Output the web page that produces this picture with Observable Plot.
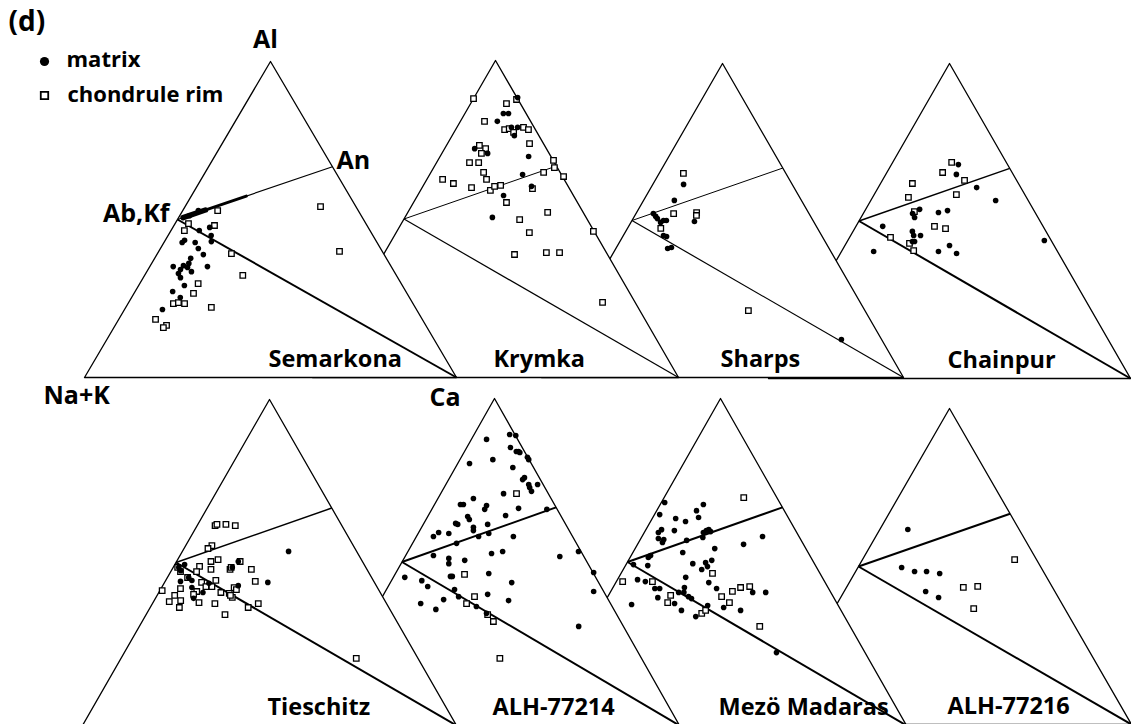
<!DOCTYPE html>
<html>
<head>
<meta charset="utf-8">
<script src="https://cdn.jsdelivr.net/npm/d3@7"></script>
<script src="https://cdn.jsdelivr.net/npm/@observablehq/plot@0.6"></script>
<style>
  body { margin: 0; background: #fff; }
  #chart svg { display: block; }
</style>
</head>
<body>
<div id="chart"></div>
<script>
// Feldspathic compositions (atomic %) on Al – (Na+K) – Ca ternaries.
// Each analysis is [Al, Ca]; Na+K = 100 − Al − Ca.

const panelNames = ["Semarkona", "Krymka", "Sharps", "Chainpur",
                    "Tieschitz", "ALH-77214", "Mezö Madaras", "ALH-77216"];
const vertexLabels = ["Al", "An", "Ab,Kf", "Na+K", "Ca"];
const legendLabels = ["matrix", "chondrule rim"];
const panelTag = "(d)";

// reference compositions: albite / K-feldspar, anorthite, Ca corner
const abKf = [50, 0];
const an = [66.7, 33.3];
const caCorner = [0, 100];

const semarkonaMatrix = [[46.5,7.6],[47.5,9.9],[44.9,11.6],[43.0,12.6],[42.7,4.9],[43.4,5.2],[42.7,8.4],[40.8,10.2],[38.9,12.5],[37.7,9.7],[36.1,10.0],[34.8,10.3],[35.4,8.9],[35.1,6.3],[33.5,12.0],[34.2,8.7],[32.9,8.8],[31.6,10.0],[35.1,15.5],[29.1,12.3],[27.2,10.1],[25.3,13.1],[21.5,10.2],[52.8,4.2],[51.2,2.6]];
const semarkonaRim = [[52.8,9.4],[54.1,36.4],[39.9,48.6],[48.1,10.9],[48.7,3.6],[46.5,3.6],[39.2,19.9],[32.3,26.4],[29.7,15.7],[26.6,16.0],[23.4,12.2],[23.7,13.4],[23.4,15.2],[22.2,23.0],[18.4,9.9],[16.5,13.8],[15.8,13.3]];
// dense run of matrix analyses lying on the Ab–An join
const semarkonaBand = [[50.6,1.2],[57.4,14.8]];
const semarkonaBandCore = [[50.6,1.2],[53.0,6.0]];

const krymkaMatrix = [[88.3,11.9],[83.3,10.5],[83.3,11.9],[80.8,10.1],[78.9,14.9],[78.9,16.6],[76.3,17.0],[72.2,8.2],[70.7,12.5],[69.7,24.2],[64.0,25.4],[60.3,29.7],[57.4,23.5],[50.5,23.9]];
const krymkaRim = [[88.0,0.0],[86.4,9.8],[87.7,11.9],[80.8,6.6],[78.2,13.4],[78.5,14.5],[77.3,16.3],[78.9,18.2],[78.2,19.9],[73.8,22.4],[73.2,9.0],[72.2,11.2],[70.7,10.8],[67.8,9.0],[67.8,11.5],[64.7,14.4],[62.5,16.3],[62.5,4.3],[61.2,7.9],[59.9,13.5],[59.0,19.1],[60.3,19.6],[60.6,21.1],[59.6,30.3],[64.7,30.8],[68.5,31.6],[66.2,33.0],[63.4,36.9],[55.2,25.4],[52.1,38.2],[49.8,31.7],[45.7,36.4],[38.8,35.8],[39.4,44.2],[39.4,47.8],[46.1,53.7],[23.7,67.4]];

const sharpsMatrix = [[61.5,8.5],[56.4,8.5],[52.2,4.8],[51.3,5.9],[50.6,6.7],[49.4,8.2],[50.0,8.7],[50.0,9.5],[45.2,11.1],[44.9,12.1],[41.1,14.3],[41.4,15.2],[49.7,17.4],[12.1,76.8]];
const sharpsRim = [[65.0,6.7],[52.2,10.4],[52.5,16.6],[51.6,17.0],[47.5,9.2],[21.3,46.5]];

const chainpurMatrix = [[67.9,18.5],[64.8,19.5],[60.6,27.2],[56.5,34.5],[52.4,13.6],[51.1,14.8],[53.7,14.9],[52.7,20.6],[53.3,22.8],[48.3,7.4],[46.7,16.4],[45.4,17.4],[45.4,19.3],[43.5,18.6],[43.5,18.0],[40.3,26.8],[42.2,28.9],[39.7,32.1],[43.8,54.3],[40.3,8.9]];
const chainpurRim = [[68.6,16.3],[65.4,15.4],[62.9,22.7],[61.9,8.8],[58.4,22.7],[57.5,9.9],[48.3,21.7],[47.6,25.1],[44.8,11.3],[42.9,17.5],[40.6,19.8],[53.0,13.8]];

const tieschitzMatrix = [[49.4,2.6],[48.5,1.5],[47.5,2.5],[45.4,5.7],[44.5,7.0],[44.2,4.1],[50.3,16.5],[48.5,15.8],[53.4,28.4],[43.9,27.6],[42.9,20.2],[42.3,8.1],[40.8,11.8],[39.0,10.2],[43.6,12.0]];
const tieschitzRim = [[61.3,4.8],[61.7,5.1],[61.7,7.5],[61.3,10.2],[55.2,7.0],[54.3,6.4],[50.3,9.2],[50.9,10.8],[50.3,17.0],[47.2,2.6],[48.8,6.9],[47.2,6.9],[47.9,10.4],[47.9,15.5],[48.5,15.5],[47.9,21.2],[48.5,1.2],[45.4,5.4],[44.5,13.4],[44.2,24.1],[43.9,9.9],[42.6,11.7],[42.6,13.3],[42.0,5.2],[41.4,0.6],[41.1,10.0],[40.2,9.6],[40.8,16.6],[40.5,19.0],[39.3,20.4],[39.9,19.6],[42.3,19.4],[41.7,20.3],[39.9,4.7],[38.3,7.1],[38.0,4.2],[37.7,12.3],[37.4,16.7],[36.2,7.8],[36.2,26.2],[37.4,28.3],[34.0,21.1],[20.6,62.9]];

const alh77214Matrix = [[89.0,9.6],[88.7,11.4],[87.5,4.1],[85.0,11.8],[83.8,14.0],[83.8,14.6],[83.5,15.1],[82.0,17.9],[81.3,18.6],[81.3,8.9],[80.1,3.2],[78.9,15.5],[75.2,20.0],[75.8,20.2],[73.7,22.4],[72.8,23.1],[71.6,24.2],[73.7,24.8],[70.9,17.0],[69.4,9.6],[67.6,7.0],[67.6,7.8],[67.3,14.2],[66.1,14.3],[66.4,23.3],[66.1,31.1],[64.2,20.9],[63.9,10.8],[63.0,11.7],[61.8,8.6],[61.5,9.3],[60.6,14.0],[59.6,14.5],[61.5,17.4],[58.7,19.1],[59.0,5.4],[57.8,4.6],[58.7,8.3],[57.8,16.8],[57.8,26.2],[55.7,11.9],[52.0,7.5],[52.6,22.9],[53.2,25.6],[51.7,41.8],[53.2,46.1],[51.1,12.1],[49.5,12.9],[50.5,16.7],[45.6,15.3],[45.6,15.8],[46.5,25.2],[43.7,32.8],[45.3,3.1],[44.3,8.2],[42.5,10.7],[46.8,53.4],[41.0,56.3],[41.6,18.4],[39.4,20.6],[40.1,28.1],[38.2,34.7],[37.3,11.4],[35.5,16.4],[38.5,17.0],[36.4,26.9],[34.3,30.7],[30.3,57.6]];
const alh77214Rim = [[70.9,20.5],[46.2,18.8],[39.4,24.9],[37.3,23.8],[33.9,31.2],[31.8,33.8],[20.5,41.2]];

const mezoMadarasMatrix = [[68.2,0.9],[67.6,11.6],[64.5,1.4],[65.7,10.7],[63.6,12.3],[63.3,6.3],[62.4,9.4],[59.0,3.8],[59.9,4.2],[59.6,7.8],[57.2,4.7],[56.9,6.3],[56.0,6.4],[56.6,12.6],[59.0,15.9],[59.6,16.4],[59.9,16.9],[59.3,17.7],[57.5,16.5],[57.8,32.4],[55.4,28.5],[54.1,21.4],[52.0,5.2],[51.4,4.9],[52.9,13.4],[49.2,2.0],[48.9,6.0],[49.5,17.8],[49.8,21.1],[50.5,22.4],[48.6,22.2],[47.7,21.1],[45.3,18.0],[43.7,25.0],[44.6,5.4],[44.0,7.8],[41.9,11.4],[41.9,12.7],[42.2,19.2],[41.9,28.0],[40.7,18.4],[40.7,19.8],[39.4,21.7],[38.8,22.8],[40.7,38.3],[40.7,41.8],[39.1,13.6],[37.3,19.0],[37.0,7.6],[36.1,32.8],[35.2,37.8],[35.2,21.9],[33.3,26.7],[36.7,28.2],[22.3,53.9]];
const mezoMadarasRim = [[69.7,21.4],[44.0,1.7],[44.0,9.7],[46.5,24.6],[41.0,32.7],[42.2,34.3],[42.5,36.6],[39.4,30.6],[37.6,33.6],[39.8,16.7],[37.6,17.0],[34.3,27.8],[35.2,28.4],[30.3,45.4]];

const alh77216Matrix = [[61.7,7.7],[49.7,12.0],[48.4,16.2],[48.4,19.5],[47.8,23.4],[42.1,22.4],[40.2,26.9]];
const alh77216Rim = [[52.2,41.8],[43.4,32.1],[43.7,35.9],[36.7,38.3]];

const matrixSets = [semarkonaMatrix, krymkaMatrix, sharpsMatrix, chainpurMatrix,
                    tieschitzMatrix, alh77214Matrix, mezoMadarasMatrix, alh77216Matrix];
const rimSets = [semarkonaRim, krymkaRim, sharpsRim, chainpurRim,
                 tieschitzRim, alh77214Rim, mezoMadarasRim, alh77216Rim];

// ---- page layout (pixels) ----
const W = 1131, H = 724;
// triangle frames: apex x, apex y, base y, half of base width
const frames = [
  {ax: 270, ay: 61,  by: 377, hw: 186},
  {ax: 495, ay: 60,  by: 377, hw: 183},
  {ax: 722, ay: 63,  by: 377, hw: 181},
  {ax: 949, ay: 63,  by: 378, hw: 181},
  {ax: 269, ay: 399, by: 725, hw: 187},
  {ax: 494, ay: 398, by: 725, hw: 185},
  {ax: 720, ay: 398, by: 725, hw: 186},
  {ax: 949, ay: 408, by: 724, hw: 182}
];
// stroke widths of the Ab–An and Ab–Ca joins
const joinWidths = [[1.2, 2.0], [1.0, 1.2], [1.0, 1.2], [1.5, 2.0],
                    [1.5, 2.0], [2.0, 2.0], [2.0, 2.0], [2.0, 2.0]];

// barycentric (Al, Ca) -> page position inside a frame
function place(f, [al, ca]) {
  return {
    x: f.ax - f.hw + (ca + al / 2) / 100 * 2 * f.hw,
    y: f.by - al / 100 * (f.by - f.ay)
  };
}

const FONT = "Open Sans";
const marks = [];

// right-hand triangles first so their neighbours overlap them
const drawOrder = [3, 2, 1, 0, 7, 6, 5, 4];
for (const i of drawOrder) {
  const f = frames[i];
  const outline = [[0, 0], [0, 100], [100, 0], [0, 0]].map(p => place(f, p));
  marks.push(Plot.line(outline, {x: "x", y: "y", fill: "white", stroke: "black", strokeWidth: 1.3}));

  const a = place(f, abKf), b = place(f, an), c = place(f, caCorner);
  marks.push(Plot.link([{x1: a.x, y1: a.y, x2: b.x, y2: b.y}],
    {x1: "x1", y1: "y1", x2: "x2", y2: "y2", stroke: "black", strokeWidth: joinWidths[i][0]}));
  marks.push(Plot.link([{x1: a.x, y1: a.y, x2: c.x, y2: c.y}],
    {x1: "x1", y1: "y1", x2: "x2", y2: "y2", stroke: "black", strokeWidth: joinWidths[i][1]}));

  if (i === 0) {
    marks.push(Plot.line(semarkonaBand.map(p => place(f, p)),
      {x: "x", y: "y", stroke: "black", strokeWidth: 3, strokeLinecap: "round"}));
    marks.push(Plot.line(semarkonaBandCore.map(p => place(f, p)),
      {x: "x", y: "y", stroke: "black", strokeWidth: 5.5, strokeLinecap: "round"}));
  }

  marks.push(Plot.dot(rimSets[i].map(p => place(f, p)),
    {x: "x", y: "y", symbol: "square", r: 3.1, fill: "white", stroke: "black", strokeWidth: 1.3}));
  marks.push(Plot.dot(matrixSets[i].map(p => place(f, p)),
    {x: "x", y: "y", r: 2.8, fill: "black", stroke: "none"}));
}

// meteorite names
marks.push(Plot.text(panelNames.map((name, i) => ({name, x: frames[i].ax - 2, y: frames[i].by - 18.5})),
  {x: "x", y: "y", text: "name", textAnchor: "start", fontSize: 23.5, fontWeight: "bold", fontFamily: FONT, fill: "black"}));

// corner labels on the first triangle
const f0 = frames[0];
const pAl = place(f0, [100, 0]), pAn = place(f0, an), pAb = place(f0, abKf),
      pNK = place(f0, [0, 0]), pCa = place(f0, caCorner);
const cornerText = [
  {t: vertexLabels[0], x: pAl.x - 5, y: pAl.y - 22, anchor: "middle"},
  {t: vertexLabels[1], x: pAn.x + 4, y: pAn.y - 6, anchor: "start"},
  {t: vertexLabels[2], x: pAb.x - 8, y: pAb.y - 6, anchor: "end"},
  {t: vertexLabels[3], x: pNK.x - 41, y: pNK.y + 18, anchor: "start"},
  {t: vertexLabels[4], x: pCa.x - 27, y: pCa.y + 20, anchor: "start"}
];
for (const d of cornerText) {
  marks.push(Plot.text([d], {x: "x", y: "y", text: "t", textAnchor: d.anchor,
    fontSize: 25, fontWeight: "bold", fontFamily: FONT, fill: "black"}));
}

// tag and legend
marks.push(Plot.text([{t: panelTag, x: 8, y: 22}], {x: "x", y: "y", text: "t", textAnchor: "start",
  fontSize: 28, fontWeight: "bold", fontFamily: FONT, fill: "black"}));
marks.push(Plot.dot([{x: 44, y: 61}], {x: "x", y: "y", r: 4.6, fill: "black"}));
marks.push(Plot.dot([{x: 44, y: 95}], {x: "x", y: "y", symbol: "square", r: 4.2, fill: "white", stroke: "black", strokeWidth: 1.8}));
marks.push(Plot.text([{t: legendLabels[0], x: 66, y: 59}, {t: legendLabels[1], x: 67, y: 94}],
  {x: "x", y: "y", text: "t", textAnchor: "start", fontSize: 22, fontWeight: "bold", fontFamily: FONT, fill: "black"}));

const chart = Plot.plot({
  width: W,
  height: H,
  margin: 0,
  x: {domain: [0, W], range: [0, W], axis: null},
  y: {domain: [0, H], range: [0, H], axis: null},
  style: {background: "white", fontFamily: FONT},
  marks
});
document.getElementById("chart").append(chart);
</script>
</body>
</html>
